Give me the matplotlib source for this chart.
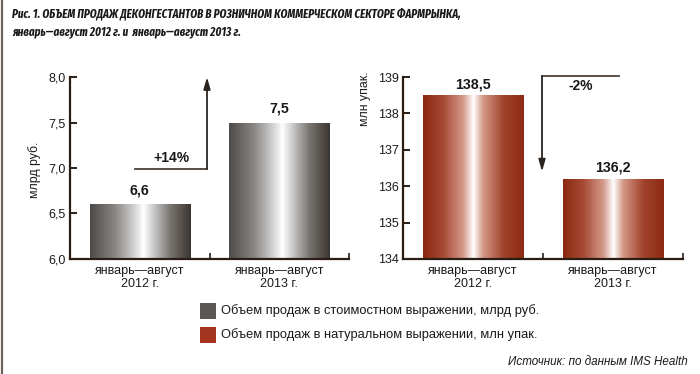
import numpy as np
import matplotlib.pyplot as plt
from matplotlib.colors import LinearSegmentedColormap
from matplotlib.patches import Rectangle
from matplotlib.lines import Line2D

plt.rcParams['font.family'] = ['Liberation Sans', 'DejaVu Sans']

# данные
periods = ['январь—август\n2012 г.', 'январь—август\n2013 г.']
value_rub = [6.6, 7.5]          # млрд руб.
value_pack = [138.5, 136.2]     # млн упак.
labels_rub = ['6,6', '7,5']
labels_pack = ['138,5', '136,2']
ticks_rub = [6.0, 6.5, 7.0, 7.5, 8.0]
ticklabels_rub = ['6,0', '6,5', '7,0', '7,5', '8,0']
ticks_pack = [134, 135, 136, 137, 138, 139]
change_rub = '+14%'
change_pack = '-2%'
legend_labels = ['Объем продаж в стоимостном выражении, млрд руб.',
                 'Объем продаж в натуральном выражении, млн упак.']

axis_col = '#2b1d14'
text_col = '#1a1a1a'
title_font = ['Fira Sans Extra Condensed', 'Roboto Condensed', 'DejaVu Sans']

gray_cmap = LinearSegmentedColormap.from_list('g', [
    (0.0, '#4e4a47'), (0.25, '#8a8784'), (0.45, '#d8d8d8'), (0.53, '#ffffff'),
    (0.62, '#cfcfcf'), (0.8, '#77736f'), (1.0, '#3a3531')])
red_cmap = LinearSegmentedColormap.from_list('r', [
    (0.0, '#8a2812'), (0.2, '#a64a33'), (0.4, '#d59a8a'), (0.5, '#ffffff'),
    (0.6, '#d39584'), (0.8, '#a0432c'), (1.0, '#8c2a14')])

fig = plt.figure(figsize=(7, 3.74), dpi=100)


def gradient_bars(ax, vals, cmap, ymin):
    x = np.arange(len(vals))
    bars = ax.bar(x, np.array(vals) - ymin, bottom=ymin, width=0.72,
                  facecolor='none', edgecolor='none')
    grad = np.linspace(0, 1, 256).reshape(1, -1)
    for b in bars:
        im = ax.imshow(grad, cmap=cmap, aspect='auto',
                       extent=[b.get_x(), b.get_x() + b.get_width(),
                               b.get_y(), b.get_y() + b.get_height()],
                       zorder=2)
        im.set_clip_path(b)
    return bars


def style_axis(ax):
    for s in ['top', 'right']:
        ax.spines[s].set_visible(False)
    for s in ['left', 'bottom']:
        ax.spines[s].set_color(axis_col)
        ax.spines[s].set_linewidth(1.6)
    ax.set_xlim(-0.5, 1.5)
    ax.set_xticks([0.5, 1.5])
    ax.set_xticklabels([])
    ax.set_xticks([0, 1], minor=True)
    ax.set_xticklabels(periods, minor=True, fontsize=9, color=text_col,
                       linespacing=1.15)
    ax.tick_params(axis='x', which='major', direction='in', length=4,
                   color=axis_col, width=1.2)
    ax.tick_params(axis='x', which='minor', length=0, pad=4)
    ax.tick_params(axis='y', direction='in', length=5, color=axis_col,
                   width=1.4, labelsize=9, labelcolor=text_col, pad=3)


# левая диаграмма: рубли
ax1 = fig.add_axes([0.1, 0.3075, 0.3986, 0.4866])
gradient_bars(ax1, value_rub, gray_cmap, 6.0)
style_axis(ax1)
ax1.set_ylim(6.0, 8.0)
ax1.set_yticks(ticks_rub)
ax1.set_yticklabels(ticklabels_rub)
for i, v in enumerate(value_rub):
    ax1.annotate(labels_rub[i], (i, v), xytext=(0, 5), textcoords='offset points',
                 ha='center', va='bottom', fontsize=10.3, fontweight='bold',
                 color=text_col)
ax1.plot([-0.035, 0.482], [6.99, 6.99], color='#4a4038', lw=1.3,
         clip_on=False, zorder=3)
ax1.annotate('', xy=(0.482, 8.0), xytext=(0.482, 6.99),
             arrowprops=dict(arrowstyle='-|>,head_length=0.7,head_width=0.2',
                             color='#2b2520', lw=1.3, shrinkA=0, shrinkB=0),
             annotation_clip=False)
ax1.text(0.23, 7.03, change_rub, ha='center', va='bottom', fontsize=10,
         fontweight='bold', color=text_col)
fig.text(0.05, 0.545, 'млрд руб.', rotation=90, ha='center', va='center',
         fontsize=8.8, color=text_col)

# правая диаграмма: упаковки
ax2 = fig.add_axes([0.5757, 0.3075, 0.4, 0.4866])
gradient_bars(ax2, value_pack, red_cmap, 134)
style_axis(ax2)
ax2.set_ylim(134, 139)
ax2.set_yticks(ticks_pack)
ax2.set_yticklabels([str(t) for t in ticks_pack])
for i, v in enumerate(value_pack):
    ax2.annotate(labels_pack[i], (i, v), xytext=(0, 3), textcoords='offset points',
                 ha='center', va='bottom', fontsize=10.3, fontweight='bold',
                 color=text_col)
ax2.plot([0.493, 1.043], [139.03, 139.03], color='#4a4038', lw=1.3,
         clip_on=False, zorder=3)
ax2.annotate('', xy=(0.493, 136.4), xytext=(0.493, 139.03),
             arrowprops=dict(arrowstyle='-|>,head_length=0.7,head_width=0.2',
                             color='#2b2520', lw=1.3, shrinkA=0, shrinkB=0),
             annotation_clip=False)
ax2.text(0.77, 138.75, change_pack, ha='center', va='center', fontsize=10,
         fontweight='bold', color=text_col)
fig.text(0.522, 0.735, 'млн упак.', rotation=90, ha='center', va='center',
         fontsize=8.8, color=text_col)

# легенда
sw_colors = ['#5a5653', '#a33520']
sw_y = [1 - 319 / 374, 1 - 343 / 374]
for c, y, lab in zip(sw_colors, sw_y, legend_labels):
    fig.patches.append(Rectangle((200 / 700, y), 16 / 700, 16 / 374,
                                 transform=fig.transFigure, facecolor=c,
                                 edgecolor='none'))
    fig.text(221 / 700, y + 8 / 374, lab, ha='left', va='center',
             fontsize=9.3, color=text_col)

# заголовок
fig.text(12 / 700, 1 - 14 / 374,
         'Рис. 1. ОБЪЕМ ПРОДАЖ ДЕКОНГЕСТАНТОВ В РОЗНИЧНОМ КОММЕРЧЕСКОМ СЕКТОРЕ ФАРМРЫНКА,',
         ha='left', va='center', fontsize=8.6, fontweight='bold', style='italic',
         family=title_font, color=text_col)
fig.text(12 / 700, 1 - 32 / 374,
         'январь—август 2012 г. и  январь—август 2013 г.',
         ha='left', va='center', fontsize=8.6, fontweight='bold', style='italic',
         family=title_font, color=text_col)

# источник
fig.text(688 / 700, 1 - 362 / 374, 'Источник: по данным IMS Health',
         ha='right', va='center', fontsize=8.4, style='italic', color=text_col)

# рамка слева
fig.add_artist(Line2D([1.5 / 700, 1.5 / 700], [0, 1], transform=fig.transFigure,
                      color='#6b6258', lw=1.6))

plt.savefig('out.png', dpi=100)
